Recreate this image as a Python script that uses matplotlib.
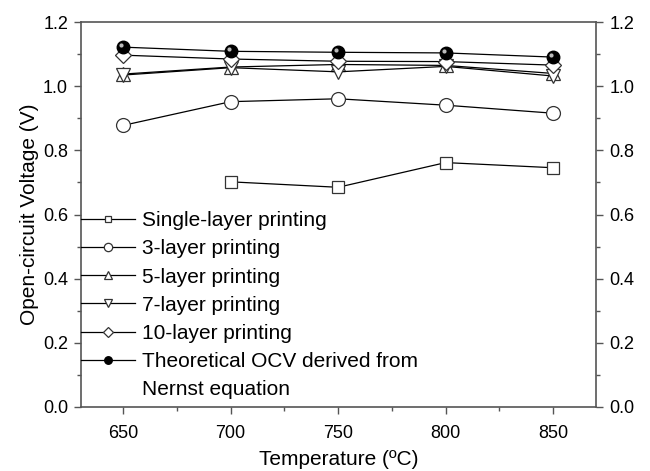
import matplotlib
matplotlib.use('Agg')
import matplotlib.pyplot as plt
from matplotlib.ticker import MultipleLocator
from matplotlib.transforms import offset_copy

plt.rcParams['font.family'] = ['Liberation Sans', 'DejaVu Sans']

temps = [650, 700, 750, 800, 850]
single_temps = [700, 750, 800, 850]
single_layer = [0.702, 0.685, 0.762, 0.746]
layer3 = [0.878, 0.952, 0.961, 0.941, 0.916]
layer5 = [1.038, 1.060, 1.068, 1.065, 1.040]
layer7 = [1.035, 1.058, 1.045, 1.062, 1.032]
layer10 = [1.097, 1.085, 1.078, 1.077, 1.066]
nernst = [1.122, 1.109, 1.106, 1.104, 1.091]

labels = ['Single-layer printing', '3-layer printing', '5-layer printing',
          '7-layer printing', '10-layer printing',
          'Theoretical OCV derived from', 'Nernst equation']

fig = plt.figure(figsize=(6.5, 4.71), dpi=100)
ax = fig.add_axes([0.125, 0.136, 0.792, 0.817])

edge = '#333333'
kw = dict(color='black', lw=0.9, mfc='white', mec=edge, mew=0.9)
ax.plot(single_temps, single_layer, marker='s', ms=8, label=labels[0], **kw)
ax.plot(temps, layer3, marker='o', ms=10, label=labels[1], **kw)
ax.plot(temps, layer5, marker='^', ms=10, label=labels[2], **kw)
ax.plot(temps, layer7, marker='v', ms=10, label=labels[3], **kw)
ax.plot(temps, layer10, marker='D', ms=8, label=labels[4], **kw)
ax.plot(temps, nernst, marker='o', ms=9, color='black', lw=0.9, mfc='black',
        mec='black', label=labels[5])
# second line of the last legend label, no handle
ax.plot([], [], ls='none', label=labels[6])
# highlight on the shaded balls
hl = offset_copy(ax.transData, fig=fig, x=-1.5, y=1.5, units='points')
ax.plot(temps, nernst, ls='none', marker='o', ms=3, mfc='#bbbbbb', mec='none',
        transform=hl)

ax.set_xlim(630.5, 870)
ax.set_ylim(0, 1.2)
ax.xaxis.set_major_locator(MultipleLocator(50))
ax.xaxis.set_minor_locator(MultipleLocator(25))
ax.yaxis.set_major_locator(MultipleLocator(0.2))
ax.yaxis.set_minor_locator(MultipleLocator(0.1))
ax.yaxis.set_major_formatter(plt.FormatStrFormatter('%.1f'))

for s in ax.spines.values():
    s.set_color('#555555')
    s.set_linewidth(1.2)
ax.tick_params(which='both', direction='out', color='#555555', width=1.0,
               right=True, labelright=True, labelsize=13)
ax.tick_params(which='major', length=5)
ax.tick_params(which='minor', length=3)
ax.tick_params(axis='x', pad=8)
ax.tick_params(axis='y', pad=4.5)

ax.set_xlabel('Temperature (ºC)', fontsize=15, labelpad=6)
ax.set_ylabel('Open-circuit Voltage (V)', fontsize=15, labelpad=3)

ax.legend(loc='lower left', bbox_to_anchor=(0.0, 0.02), frameon=False,
          fontsize=15, handlelength=2.6, handletextpad=0.3, labelspacing=0.44,
          borderpad=0, borderaxespad=0, markerscale=0.6)

fig.savefig('out.png', dpi=100)
